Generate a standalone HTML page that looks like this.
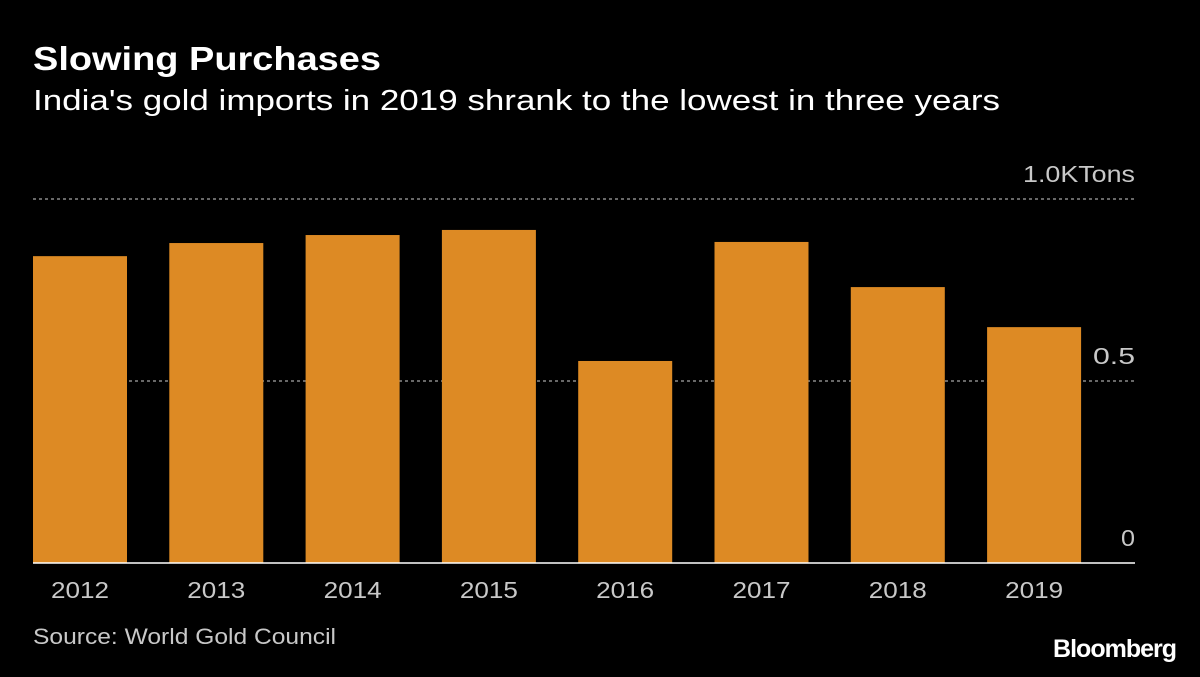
<!DOCTYPE html>
<html><head><meta charset="utf-8"><style>
body{margin:0;background:#000;width:1200px;height:672px;overflow:hidden;font-family:"Liberation Sans",sans-serif}
</style></head><body>
<svg width="1200" height="672">
<rect width="1200" height="672" fill="#000"/>
<text x="33" y="70" fill="#fff" font-size="33" font-weight="bold" textLength="348" lengthAdjust="spacingAndGlyphs">Slowing Purchases</text>
<text x="33" y="110" fill="#fff" font-size="29" textLength="967" lengthAdjust="spacingAndGlyphs">India's gold imports in 2019 shrank to the lowest in three years</text>
<g id="plot"></g>
<text x="33" y="644" fill="#c8c8c8" font-size="22" textLength="303" lengthAdjust="spacingAndGlyphs">Source: World Gold Council</text>
<text x="1176" y="657" fill="#fff" font-size="25" font-weight="bold" text-anchor="end" letter-spacing="-1">Bloomberg</text>
</svg>
<script>
const categories=["2012","2013","2014","2015","2016","2017","2018","2019"];
const values=[0.843,0.879,0.901,0.915,0.555,0.882,0.758,0.648];
const tickValues=[0,0.5,1.0];
const tickLabels=["0","0.5","1.0KTons"];
const NS="http://www.w3.org/2000/svg";
const g=document.getElementById('plot');
const left=33,right=1135,y0=563,y1=199,step=136.3,bw=94;
const y=v=>y0-(y0-y1)*v;
const x=i=>left+i*step;
function mk(t,a){const e=document.createElementNS(NS,t);for(const k in a)e.setAttribute(k,a[k]);g.appendChild(e);return e;}
tickValues.forEach((v,i)=>{
 if(v>0){const l=mk('line',{x1:left,x2:right,y1:y(v),y2:y(v),stroke:'#8a8a8a','stroke-width':1.5,'stroke-dasharray':'3,3'});
 
 }
 const t=mk('text',{x:right,y:y(v)-17,fill:'#c8c8c8','font-size':23,'text-anchor':'end',textLength:tickLabels[i].length*14,lengthAdjust:'spacingAndGlyphs'});
 t.textContent=tickLabels[i];
 
 
});
values.forEach((v,i)=>{
 const r=mk('rect',{x:x(i),y:y(v),width:bw,height:y0-y(v),fill:'#dd8a24'});
 
 
 const t=mk('text',{x:x(i)+bw/2,y:598,fill:'#c8c8c8','font-size':23,'text-anchor':'middle',textLength:58,lengthAdjust:'spacingAndGlyphs'});
 t.textContent=categories[i];
 
 
});
const b=mk('line',{x1:left,x2:right,y1:y0,y2:y0,stroke:'#fff','stroke-width':1.5});


</script>
</body></html>
